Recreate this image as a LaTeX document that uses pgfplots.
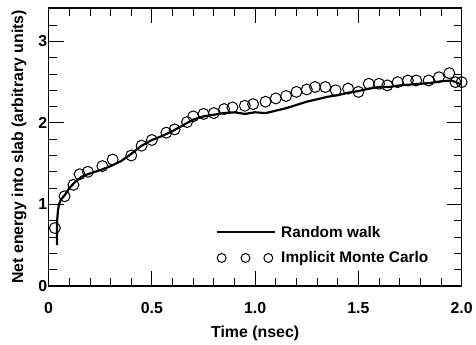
\documentclass[border=0pt]{standalone}
\usepackage{pgfplots}
\pgfplotsset{compat=1.18}
\usepackage{fontspec}
\setmainfont{Liberation Sans}
\newcommand{\legfont}{\fontsize{15.5}{18}\selectfont\bfseries}
\begin{document}
\begin{tikzpicture}
\begin{axis}[
  scale only axis, width=416pt, height=280pt,
  xmin=0, xmax=2.0, ymin=0, ymax=3.41,
  xtick={0,0.5,1.0,1.5,2.0}, xticklabels={0,0.5,1.0,1.5,2.0},
  ytick={0,1,2,3},
  minor xtick={0.1,0.2,...,1.9}, minor ytick={0.2,0.4,...,3.4},
  tick align=inside,
  major tick length=15pt, minor tick length=8pt,
  every tick/.style={black, line width=0.9pt},
  axis line style={line width=1.2pt},
  /pgf/number format/assume math mode=true,
  tick label style={font=\fontsize{16}{19}\selectfont\bfseries},
  xticklabel style={yshift=-13pt},
  yticklabel style={xshift=2pt},
  label style={font=\fontsize{16}{19}\selectfont\bfseries},
  xlabel={Time (nsec)},
  ylabel={Net energy into slab (arbitrary units)},
  xlabel style={yshift=-6pt},
  ylabel style={yshift=5pt},
  legend style={draw=none, fill=none, at={(rel axis cs:0.404,0.07)}, anchor=south west,
    row sep=9pt, inner sep=0pt, nodes={inner xsep=5pt}},
  legend cell align=left,
  clip=false,
]
\addplot[black, line width=2.2pt, line join=round, forget plot] coordinates {
(0.040,0.50) (0.041,0.80) (0.045,0.92) (0.05,1.00) (0.06,1.06) (0.08,1.12) (0.10,1.20)
(0.13,1.28) (0.16,1.34) (0.20,1.38) (0.25,1.42) (0.30,1.47) (0.35,1.53) (0.40,1.62)
(0.45,1.72) (0.50,1.79) (0.55,1.84) (0.60,1.90) (0.65,1.97) (0.70,2.04) (0.75,2.08)
(0.80,2.10) (0.85,2.12) (0.90,2.13) (0.95,2.11) (1.00,2.13) (1.05,2.12) (1.10,2.15)
(1.15,2.18) (1.20,2.22) (1.25,2.26) (1.30,2.29) (1.35,2.32) (1.40,2.34) (1.45,2.37)
(1.50,2.39) (1.55,2.42) (1.60,2.44) (1.65,2.44) (1.70,2.46) (1.75,2.47) (1.80,2.48)
(1.85,2.49) (1.90,2.51) (1.95,2.52) (2.00,2.47)
};
\addplot[only marks, mark=o, mark size=5.5pt, mark options={fill=white, line width=1pt}, forget plot] coordinates {
(0.03,0.71) (0.077,1.10) (0.12,1.24) (0.15,1.37) (0.19,1.40) (0.26,1.47) (0.31,1.55)
(0.40,1.60) (0.45,1.72) (0.50,1.79) (0.57,1.88) (0.61,1.92) (0.67,2.01) (0.70,2.08)
(0.75,2.11) (0.80,2.12) (0.85,2.17) (0.89,2.19) (0.95,2.21) (0.99,2.23) (1.05,2.26)
(1.10,2.30) (1.15,2.33) (1.20,2.38) (1.25,2.41) (1.29,2.44) (1.34,2.44) (1.39,2.40)
(1.45,2.42) (1.50,2.38) (1.55,2.48) (1.60,2.48) (1.64,2.46) (1.69,2.50) (1.74,2.52)
(1.78,2.52) (1.84,2.52) (1.89,2.56) (1.94,2.61) (1.97,2.50) (2.00,2.50)
};
\addlegendimage{legend image code/.code={\draw[black, line width=2pt] (0pt,0pt) -- (59pt,0pt);}}
\addlegendentry{\legfont Random walk}
\addlegendimage{legend image code/.code={\draw[black, line width=1pt, fill=white] (5pt,0pt) circle (4.5pt) (29pt,0pt) circle (4.5pt) (52pt,0pt) circle (4.5pt);}}
\addlegendentry{\legfont Implicit Monte Carlo}
\end{axis}
\path (current axis.south west) +(-49pt,-51pt) coordinate (bbA);
\path (current axis.north east) +(11pt,8pt) coordinate (bbB);
\path (bbA) rectangle (bbB);
\end{tikzpicture}
\end{document}
